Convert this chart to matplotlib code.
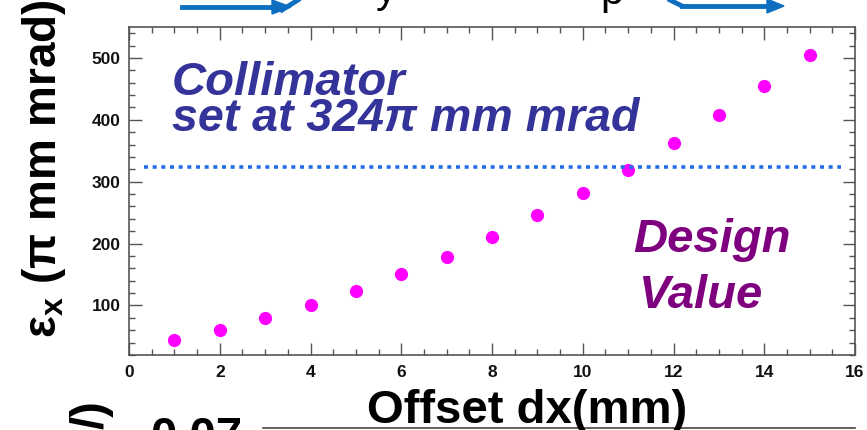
#!/usr/bin/env python3
"""
Emittance vs. beam offset, recreated from a slide snippet.
"""

import matplotlib.pyplot as plt
from matplotlib.lines import Line2D
from matplotlib.ticker import MultipleLocator

# Data
offset_dx = [1, 2, 3, 4, 5, 6, 7, 8, 9, 10, 11, 12, 13, 14, 15]
emittance = [44, 60, 79, 100, 124, 151, 179, 211, 247, 282, 319, 362, 408, 454, 504]
collimator_limit = 324

W, H = 867, 430
SANS = ['Liberation Sans', 'DejaVu Sans']

plt.rcParams['mathtext.fontset'] = 'custom'
plt.rcParams['mathtext.rm'] = 'Liberation Sans'
plt.rcParams['mathtext.bf'] = 'Liberation Sans:bold'
plt.rcParams['mathtext.it'] = 'Liberation Sans:italic'


def fx(px):
    return px / W


def fy(py):
    return 1 - py / H


def main():
    fig = plt.figure(figsize=(W / 100, H / 100), dpi=100)
    fig.patch.set_facecolor('white')

    ax = fig.add_axes([fx(129), fy(355), fx(855) - fx(129), fy(27) - fy(355)])

    # Points
    ax.plot(offset_dx, emittance, 'o', color='#ff00ff', markersize=9.5,
            markeredgewidth=0)

    # Collimator line
    ax.plot([0.33, 15.7], [collimator_limit, collimator_limit],
            color='#1f6fe8', lw=2.6, linestyle=(0, (1.1, 1.3)),
            dash_capstyle='butt')

    ax.set_xlim(0, 16)
    ax.set_ylim(20, 550)

    # ROOT-like ticks on all sides, pointing in
    ax.xaxis.set_major_locator(MultipleLocator(2))
    ax.xaxis.set_minor_locator(MultipleLocator(0.5))
    ax.yaxis.set_major_locator(MultipleLocator(100))
    ax.yaxis.set_minor_locator(MultipleLocator(20))
    ax.tick_params(which='both', direction='in', top=True, right=True,
                   color='#555555', width=1.0)
    ax.tick_params(which='major', length=9)
    ax.tick_params(which='minor', length=4.5)
    ax.tick_params(axis='x', pad=7)
    ax.tick_params(axis='y', pad=6)
    for lab in ax.get_xticklabels() + ax.get_yticklabels():
        lab.set_family(SANS)
        lab.set_fontweight('bold')
        lab.set_fontsize(12.5)
        lab.set_color('#111111')
    for s in ax.spines.values():
        s.set_color('#555555')
        s.set_linewidth(1.2)

    # Axis titles
    fig.text(fx(527), fy(423), 'Offset dx(mm)', family=SANS,
             fontweight='bold', fontsize=34, ha='center', va='baseline')
    fig.text(fx(44), fy(169), r'$\mathbf{\varepsilon_x}$ (' + '\u03c0 mm mrad)',
             family=SANS, fontweight='bold', fontsize=33, rotation=90,
             ha='center', va='center')

    # Annotations
    fig.text(fx(172), fy(95), 'Collimator', family=SANS, fontweight='bold',
             style='italic', fontsize=34, color='#333399', va='baseline')
    fig.text(fx(172), fy(131), 'set at 324\u03c0 mm mrad', family=SANS,
             fontweight='bold', style='italic', fontsize=33.5, color='#333399',
             va='baseline')
    fig.text(fx(633), fy(252), 'Design', family=SANS, fontweight='bold',
             style='italic', fontsize=34, color='#7f007f', va='baseline')
    fig.text(fx(638), fy(308), 'Value', family=SANS, fontweight='bold',
             style='italic', fontsize=34, color='#7f007f', va='baseline')

    # Slide fragments cut off at the top
    blue = '#0e6fc1'
    fig.add_artist(Line2D([fx(182), fx(280)], [fy(7), fy(7)], color=blue, lw=3.5))
    fig.add_artist(Line2D([fx(282), fx(298)], [fy(10), fy(0)], color=blue, lw=3.5))
    fig.add_artist(plt.Polygon([[fx(272), fy(0)], [fx(291), fy(7)], [fx(272), fy(14)]],
                               closed=True, color=blue))
    fig.add_artist(Line2D([fx(670), fx(682)], [fy(0), fy(6)], color=blue, lw=3.5))
    fig.add_artist(Line2D([fx(682), fx(770)], [fy(6), fy(6)], color=blue, lw=3.5))
    fig.add_artist(plt.Polygon([[fx(767), fy(-1)], [fx(784), fy(6)], [fx(767), fy(13)]],
                               closed=True, color=blue))
    fig.text(fx(376), fy(2), 'y', family=SANS, fontsize=30, va='baseline')
    fig.text(fx(600), fy(4), 'p', family=SANS, fontsize=30, va='baseline')

    # Slide fragments cut off at the bottom
    fig.text(fx(150), fy(450), '0.07', family=SANS, fontweight='bold',
             fontsize=34, va='baseline')
    fig.text(fx(92), fy(400), '/)', family=SANS, fontweight='bold',
             fontsize=34, rotation=90, ha='center', va='top')
    fig.add_artist(Line2D([fx(263), fx(855)], [fy(427.5), fy(427.5)],
                          color='#444444', lw=1.2))

    fig.savefig('out.png', dpi=100)


if __name__ == '__main__':
    main()
